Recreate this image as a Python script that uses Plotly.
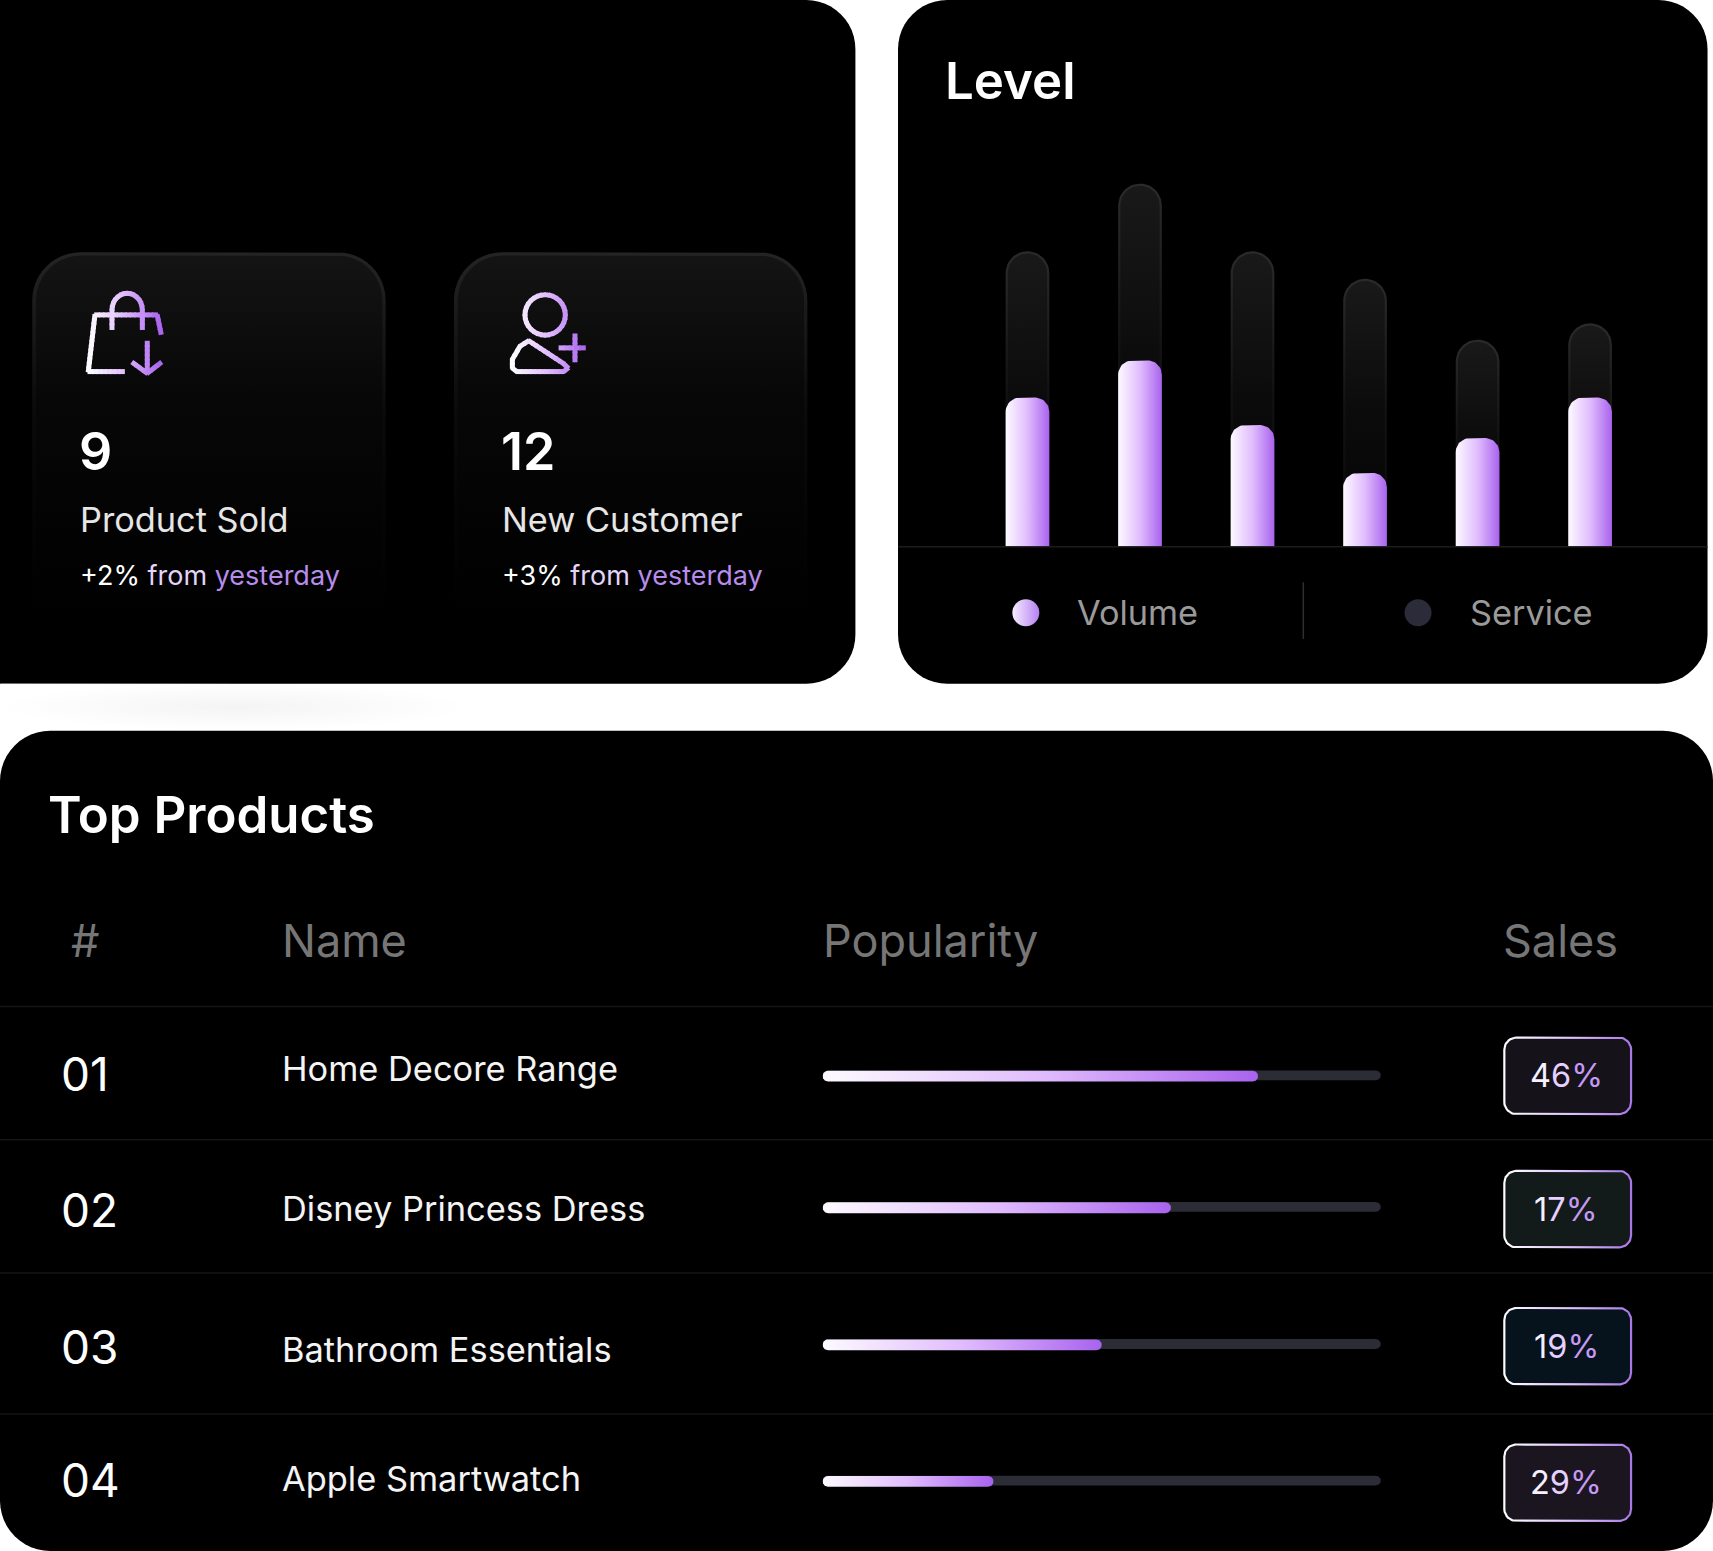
import math
import plotly.graph_objects as go

# data
level_volume = [40, 50, 32.6, 19.7, 29.1, 40]
level_service = [79.4, 97.6, 79.4, 72, 55.6, 60]
product_ids = ["01", "02", "03", "04"]
product_names = ["Home Decore Range", "Disney Princess Dress", "Bathroom Essentials", "Apple Smartwatch"]
popularity = [78, 62.4, 50, 30.6]
sales = ["46%", "17%", "19%", "29%"]
stat_values = ["9", "12"]
stat_labels = ["Product Sold", "New Customer"]
stat_changes = ["+2%", "+3%"]
table_headers = ["#", "Name", "Popularity", "Sales"]

# layout is worked out on a 1568x1420 grid, fonts are in real page px
W, H = 1713, 1551
GRID_W, GRID_H = 1568, 1420
FONT = "Inter"
PURPLE = [[0, "#fdfaff"], [0.5, "#e0bcfd"], [1, "#a963ee"]]

fig = go.Figure()
shapes = []
notes = []


def corner_path(x0, x1, y0, y1, rx, ry, round_low=True, round_high=True):
    # closed outline, y0 and y1 are the two edges, corners at y1 and y0 rounded on request
    xs, ys = [], []
    sy = 1 if y1 > y0 else -1

    def arc(cx, cy, a0, a1):
        for k in range(13):
            a = math.radians(a0 + (a1 - a0) * k / 12)
            xs.append(cx + rx * math.cos(a))
            ys.append(cy + sy * ry * math.sin(a))

    if round_low:
        arc(x0 + rx, y0 + sy * ry, 180, 270)
        arc(x1 - rx, y0 + sy * ry, 270, 360)
    else:
        xs += [x0, x1]
        ys += [y0, y0]
    if round_high:
        arc(x1 - rx, y1 - sy * ry, 0, 90)
        arc(x0 + rx, y1 - sy * ry, 90, 180)
    else:
        xs += [x1, x0]
        ys += [y1, y1]
    xs.append(xs[0])
    ys.append(ys[0])
    return xs, ys


def grad_area(xs, ys, kind, scale, xaxis="x", yaxis="y"):
    fig.add_trace(go.Scatter(x=xs, y=ys, mode="lines", fill="toself", line=dict(width=0),
                             fillgradient=dict(type=kind, colorscale=scale),
                             xaxis=xaxis, yaxis=yaxis, hoverinfo="skip", showlegend=False))


def flat_area(xs, ys, color):
    fig.add_trace(go.Scatter(x=xs, y=ys, mode="lines", fill="toself", line=dict(width=0),
                             fillcolor=color, hoverinfo="skip", showlegend=False))


def label(x, y, text, size, color="#ffffff", weight=400, anchor="left"):
    # annotations carry about 3 grid units of padding on the left
    if anchor == "left":
        x -= 2.7
    notes.append(dict(x=x, y=y, xref="x", yref="y", text=text, showarrow=False, xanchor=anchor,
                      yanchor="middle", align=anchor,
                      font=dict(family=FONT, size=size, color=color, weight=weight)))


def panel(x0, x1, y0, y1, r, left_round=True):
    p = corner_path(x0, x1, y0, y1, r, r)
    if not left_round:
        p = corner_path(x0 - r, x1, y0, y1, r, r)
    d = "M" + " L".join(f"{a:.1f},{b:.1f}" for a, b in zip(*p)) + " Z"
    shapes.append(dict(type="path", path=d, xref="x", yref="y", fillcolor="#000000",
                       line=dict(width=0), layer="below"))


def mix(t):
    # white to purple along an icon
    stops = [(0, (255, 255, 255)), (0.5, (224, 188, 253)), (1, (169, 99, 238))]
    for (a, ca), (b, cb) in zip(stops, stops[1:]):
        if t <= b:
            f = (t - a) / (b - a)
            return "rgb(%d,%d,%d)" % tuple(round(p + (q - p) * f) for p, q in zip(ca, cb))
    return "rgb(169,99,238)"


def icon_line(points, left, right, width=5):
    # one short shape per piece so the stroke can change colour, pieces overlap to hide the joins
    for (ax, ay), (bx, by) in zip(points, points[1:]):
        length = math.hypot(bx - ax, by - ay)
        steps = max(1, int(length / 4))
        over = 0.7 / max(length, 0.01)
        for k in range(steps):
            s1 = k / steps - over
            s2 = (k + 1) / steps + over
            x1, y1 = ax + (bx - ax) * s1, ay + (by - ay) * s1
            x2, y2 = ax + (bx - ax) * s2, ay + (by - ay) * s2
            t = min(1, max(0, ((x1 + x2) / 2 - left) / (right - left)))
            shapes.append(dict(type="line", x0=x1, y0=y1, x1=x2, y1=y2, xref="x", yref="y",
                               line=dict(color=mix(t), width=width), layer="above"))


def ellipse_pts(cx, cy, rx, ry, a0=0, a1=360, n=32):
    return [(cx + rx * math.cos(math.radians(a0 + (a1 - a0) * i / n)),
             cy + ry * math.sin(math.radians(a0 + (a1 - a0) * i / n))) for i in range(n + 1)]


# soft shadow under the first panel
sx, sy = corner_path(0, 430, 626, 668, 1, 1)
grad_area(sx, sy, "radial", [[0, "#f4f4f4"], [1, "#ffffff"]])

panel(0, 783, 0, 626, 45, left_round=False)
panel(822, 1563, 0, 626, 45)
panel(0, 1568, 669, 1420, 46)

# bottom line of the level chart, sits under the bars
shapes.append(dict(type="line", x0=822, x1=1563, y0=500.5, y1=500.5, xref="x", yref="y",
                   line=dict(color="#1c1c1c", width=1.5), layer="below"))

# stat cards
for n, cx0 in enumerate([30, 416]):
    ox, oy = corner_path(cx0 - 0.5, cx0 + 323, 231, 560, 44, 44, round_high=False)
    grad_area(ox, oy, "vertical", [[0, "#000000"], [0.55, "#0a0a0a"], [1, "#242424"]])
    ix, iy = corner_path(cx0 + 3, cx0 + 320, 234, 560, 41, 41, round_high=False)
    grad_area(ix, iy, "vertical", [[0, "#000000"], [0.6, "#070707"], [1, "#141414"]])
    tx = cx0 + 44
    label(tx - 1, 413.7, stat_values[n], 52, weight=600)
    label(tx, 476, stat_labels[n], 34.3, color="#e6e6e6")
    label(tx, 526.5, f"{stat_changes[n]} <span style='color:#e4d4fa'>from</span> "
                     f"<span style='color:#b88cec'>yesterday</span>", 27)

# bag icon
icon_line([(113.6, 340.2), (80.8, 340.2), (86.9, 288.3), (143.9, 288.3), (147.5, 305.7)], 80, 148)
icon_line([(102.5, 301.4), (102.5, 283.7)] + ellipse_pts(116.4, 283.7, 13.9, 15.2, 180, 360, 14)
          + [(130.3, 301.4)], 80, 148)
icon_line([(134.8, 312.7), (134.8, 341.7)], 80, 148)
icon_line([(121.2, 331.9), (134.8, 341.7), (147.5, 331.9)], 80, 148)
# person icon
icon_line(ellipse_pts(499, 288.3, 18.5, 18.5), 468, 536)
icon_line([(484, 312), (476, 317), (469, 329), (469, 337), (473, 340.2), (516, 340.2), (520, 337),
           (516, 333), (484, 312)], 468, 536)
icon_line([(526.3, 306), (526.3, 331)], 468, 536)
icon_line([(512, 318.5), (535.5, 318.5)], 468, 536)

# level chart
label(866, 73.3, "Level", 51, weight=600)
bar_w = 40 / 103
y_per_grid = 100 / 340
for i, (vol, svc) in enumerate(zip(level_volume, level_service)):
    ox, oy = corner_path(i - bar_w / 2, i + bar_w / 2, 0, svc, bar_w / 2, 20 * y_per_grid, round_low=False)
    grad_area(ox, oy, "vertical", [[0, "#0a0a0a"], [0.5, "#111111"], [1, "#2b2b2b"]], "x2", "y2")
    m = 2 / 103
    ix, iy = corner_path(i - bar_w / 2 + m, i + bar_w / 2 - m, 0, svc - 2 * y_per_grid, bar_w / 2 - m,
                         18 * y_per_grid, round_low=False)
    grad_area(ix, iy, "vertical", [[0, "#040404"], [0.5, "#0b0b0b"], [1, "#191919"]], "x2", "y2")
    fx, fy = corner_path(i - bar_w / 2, i + bar_w / 2, 0, vol, 13 / 103, 13 * y_per_grid, round_low=False)
    grad_area(fx, fy, "horizontal", PURPLE, "x2", "y2")

shapes.append(dict(type="line", x0=1193, x1=1193, y0=533, y1=585, xref="x", yref="y",
                   line=dict(color="#2e2e2e", width=1.5), layer="above"))
fig.add_trace(go.Scatter(x=[939], y=[561], mode="markers", hoverinfo="skip", showlegend=False,
                         marker=dict(size=27, color="#f6ecff", line=dict(width=0),
                                     gradient=dict(type="horizontal", color="#b681f2"))))
fig.add_trace(go.Scatter(x=[1298], y=[561], mode="markers", hoverinfo="skip", showlegend=False,
                         marker=dict(size=27, color="#2b2b3a", line=dict(width=0))))
label(987, 561, "Volume", 34.3, color="#9a9a9a")
label(1346, 561, "Service", 34.3, color="#9a9a9a")

# table
label(45, 745.5, "Top Products", 51, weight=600)
for x, head in zip([66, 259, 754, 1377], table_headers):
    label(x, 861.3, head, 45, color="#767676")
for y in [921.5, 1043.5, 1165.5, 1294.5]:
    shapes.append(dict(type="line", x0=0, x1=1568, y0=y, y1=y, xref="x", yref="y",
                       line=dict(color="#151515", width=1.5), layer="above"))

id_y = [983, 1108, 1233, 1355]
name_y = [978.5, 1106.5, 1235.5, 1353.5]
bar_y = [985, 1105.5, 1231, 1356]
badge_y = [985, 1107, 1232.5, 1357.5]
badge_fill = ["#15121a", "#131a1a", "#06131c", "#1a151f"]
track_grid = 511 / 100  # grid units per popularity point

for i in range(4):
    label(57, id_y[i], product_ids[i], 46)
    label(259, name_y[i], product_names[i], 34.4, color="#f4f4f4")

    tx, ty = corner_path(0, 100, bar_y[i] - 5, bar_y[i] + 4, 5 / track_grid, 4.5)
    fig.add_trace(go.Scatter(x=tx, y=ty, mode="lines", fill="toself", line=dict(width=0),
                             fillcolor="#2c2c36", xaxis="x3", yaxis="y", hoverinfo="skip", showlegend=False))
    px, py = corner_path(0, popularity[i], bar_y[i] - 4.7, bar_y[i] + 5.2, 5 / track_grid, 4.9)
    grad_area(px, py, "horizontal", PURPLE, "x3", "y")

    bx, by = corner_path(1376, 1494, badge_y[i] - 36, badge_y[i] + 36, 12, 12)
    grad_area(bx, by, "horizontal", [[0, "#ffffff"], [0.55, "#dcc0fa"], [1, "#a877e6"]])
    cx, cy = corner_path(1378, 1492, badge_y[i] - 34, badge_y[i] + 34, 10, 10)
    flat_area(cx, cy, badge_fill[i])
    a, b, c = sales[i]
    label(1433.5, badge_y[i], f"<span style='color:#f6f0ff'>{a}</span><span style='color:#e6d0ff'>{b}</span>"
                              f"<span style='color:#c59af4'>{c}</span>", 32.5, anchor="center")

hidden = dict(visible=False, fixedrange=True)
fig.update_layout(
    width=W, height=H, margin=dict(l=0, r=0, t=0, b=0),
    paper_bgcolor="#ffffff", plot_bgcolor="rgba(0,0,0,0)", showlegend=False,
    shapes=shapes, annotations=notes,
    xaxis=dict(range=[0, GRID_W], domain=[0, 1], **hidden),
    yaxis=dict(range=[GRID_H, 0], domain=[0, 1], **hidden),
    # level chart: six slots 103 grid units wide, value 100 is 340 units above the baseline
    xaxis2=dict(range=[-0.5, 5.5], domain=[889 / GRID_W, 1507 / GRID_W], anchor="y2", **hidden),
    yaxis2=dict(range=[0, 100], domain=[(GRID_H - 500) / GRID_H, (GRID_H - 160) / GRID_H], anchor="x2", **hidden),
    # popularity track
    xaxis3=dict(range=[0, 100], domain=[753 / GRID_W, 1264 / GRID_W], anchor="y", **hidden),
)

fig.write_html("out.html", config={"displayModeBar": False},
               post_script="document.body.style.margin='0';document.body.style.overflow='hidden';")
